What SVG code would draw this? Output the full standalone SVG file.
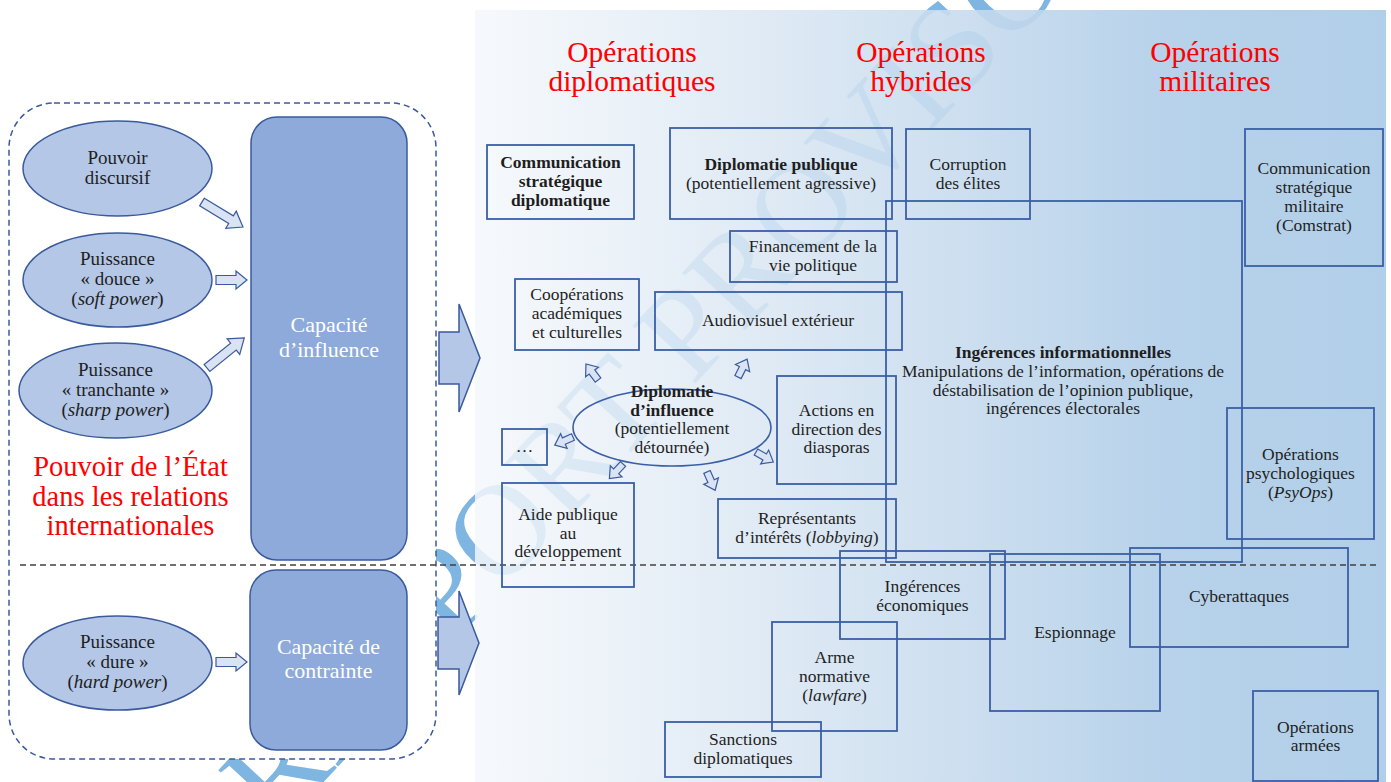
<svg xmlns="http://www.w3.org/2000/svg" xmlns:xlink="http://www.w3.org/1999/xlink" width="1391" height="782" viewBox="0 0 1391 782">
<defs>
 <linearGradient id="pg" gradientUnits="userSpaceOnUse" x1="475" y1="0" x2="1386" y2="0">
  <stop offset="0" stop-color="#f6f9fc"/>
  <stop offset="0.3" stop-color="#e1ebf5"/>
  <stop offset="0.6" stop-color="#c7dbee"/>
  <stop offset="0.757" stop-color="#b7d2ea"/>
  <stop offset="1" stop-color="#b2cfe9"/>
 </linearGradient>
 <clipPath id="pc"><rect x="475" y="10" width="911" height="772"/></clipPath>
 <path id="sa" d="M0,-3.5 H10 V-8 L20,0 L10,8 V3.5 H0 Z"/>
 <path id="ha" d="M0,-4.5 H20 V-9 L31,0 L20,9 V4.5 H0 Z"/>
 <path id="da" d="M0,-4.5 H34 V-10 L48,0 L34,10 V4.5 H0 Z"/>
</defs>
<style>
 .t{font-family:'Liberation Serif','Times New Roman',serif;fill:#1e1e1e;text-anchor:middle}
 .bx{font-size:17.5px}
 .el{font-size:19px}
 .b{font-weight:bold}
 .i{font-style:italic}
 .red{fill:#ff0000}
 .hd{font-size:29.5px}
 .cap{font-size:22px;fill:#ffffff}
 .box{fill:none;stroke:#3a5fa6;stroke-width:1.8}
 .ell{fill:#b4c7e7;stroke:#3a5a9c;stroke-width:1.5}
 .arr{fill:#dae3f3;stroke:#3a5a9c;stroke-width:1.2}
 .big{fill:#b4c7e7;stroke:#3a5a9c;stroke-width:1.5}
 .cr{fill:#8eaadb;stroke:#3a5a9c;stroke-width:1.5}
</style>

<g id="watermark">
 <text id="wm" transform="translate(278,831) rotate(-47)" font-family="Liberation Serif, serif" font-size="130" fill="#7fb5e1">RAPPORT PROVISOIRE</text>
</g>

<rect id="frame-left" x="9" y="103" width="427" height="656" rx="45" fill="#ffffff" stroke="#3a5a9c" stroke-width="1.5" stroke-dasharray="6 4"/>
<rect id="panel" x="475" y="10" width="911" height="772" fill="url(#pg)"/>
<use xlink:href="#wm" href="#wm" opacity="0.16" clip-path="url(#pc)"/>

<g id="headers">
 <text class="t hd red"><tspan x="632" y="62">Opérations</tspan><tspan x="632" y="91">diplomatiques</tspan></text>
 <text class="t hd red"><tspan x="921" y="62">Opérations</tspan><tspan x="921" y="91">hybrides</tspan></text>
 <text class="t hd red"><tspan x="1215" y="62">Opérations</tspan><tspan x="1215" y="91">militaires</tspan></text>
</g>

<text id="label-pouvoir-etat" class="t red" font-size="28.5"><tspan x="130.5" y="476">Pouvoir de l’État</tspan><tspan x="130.5" y="506">dans les relations</tspan><tspan x="130.5" y="535">internationales</tspan></text>

<line id="separator" x1="20" y1="565" x2="1380" y2="565" stroke="#404040" stroke-width="1.5" stroke-dasharray="6 4"/>

<g id="n-pouvoir-discursif">
 <ellipse class="ell" cx="117.5" cy="168.5" rx="94.5" ry="47.5"/>
 <text class="t el"><tspan x="117.5" y="164">Pouvoir</tspan><tspan x="117.5" y="184">discursif</tspan></text>
</g>
<g id="n-soft-power">
 <ellipse class="ell" cx="117.5" cy="280" rx="94.5" ry="47"/>
 <text class="t el"><tspan x="117.5" y="265">Puissance</tspan><tspan x="117.5" y="285">« douce »</tspan><tspan x="117.5" y="305">(<tspan class="i">soft power</tspan>)</tspan></text>
</g>
<g id="n-sharp-power">
 <ellipse class="ell" cx="115.5" cy="390.5" rx="96.5" ry="47.5"/>
 <text class="t el"><tspan x="115.5" y="376">Puissance</tspan><tspan x="115.5" y="396">« tranchante »</tspan><tspan x="115.5" y="416">(<tspan class="i">sharp power</tspan>)</tspan></text>
</g>
<g id="n-hard-power">
 <ellipse class="ell" cx="117.5" cy="663" rx="94.5" ry="47"/>
 <text class="t el"><tspan x="117.5" y="648">Puissance</tspan><tspan x="117.5" y="668">« dure »</tspan><tspan x="117.5" y="688">(<tspan class="i">hard power</tspan>)</tspan></text>
</g>
<g id="n-capacite-influence">
 <rect class="cr" x="251" y="117" width="156" height="443" rx="26"/>
 <text class="t cap"><tspan x="329" y="332">Capacité</tspan><tspan x="329" y="357">d’influence</tspan></text>
</g>
<g id="n-capacite-contrainte">
 <rect class="cr" x="250" y="570" width="157" height="180" rx="26"/>
 <text class="t cap"><tspan x="328.5" y="654">Capacité de</tspan><tspan x="328.5" y="678">contrainte</tspan></text>
</g>

<g id="n-comm-strat-diplo">
 <rect class="box" x="487" y="145" width="147" height="74"/>
 <text class="t bx b"><tspan x="560.5" y="168">Communication</tspan><tspan x="560.5" y="187">stratégique</tspan><tspan x="560.5" y="206">diplomatique</tspan></text>
</g>
<g id="n-diplomatie-publique">
 <rect class="box" x="670" y="128" width="222" height="91"/>
 <text class="t bx"><tspan x="781" y="170" class="b">Diplomatie publique</tspan><tspan x="781" y="189">(potentiellement agressive)</tspan></text>
</g>
<g id="n-corruption">
 <rect class="box" x="906" y="129" width="124" height="90"/>
 <text class="t bx"><tspan x="968" y="170">Corruption</tspan><tspan x="968" y="189">des élites</tspan></text>
</g>
<g id="n-comm-strat-mil">
 <rect class="box" x="1245" y="129" width="138" height="137"/>
 <text class="t bx"><tspan x="1314" y="174">Communication</tspan><tspan x="1314" y="193">stratégique</tspan><tspan x="1314" y="212">militaire</tspan><tspan x="1314" y="231">(Comstrat)</tspan></text>
</g>
<g id="n-financement">
 <rect class="box" x="730" y="231" width="167" height="51"/>
 <text class="t bx"><tspan x="813" y="252">Financement de la</tspan><tspan x="813" y="271">vie politique</tspan></text>
</g>
<g id="n-cooperations">
 <rect class="box" x="515" y="279" width="124" height="71"/>
 <text class="t bx"><tspan x="577" y="300">Coopérations</tspan><tspan x="577" y="319">académiques</tspan><tspan x="577" y="338">et culturelles</tspan></text>
</g>
<g id="n-audiovisuel">
 <rect class="box" x="655" y="292" width="247" height="58"/>
 <text class="t bx"><tspan x="778" y="326">Audiovisuel extérieur</tspan></text>
</g>
<g id="n-ingerences-info">
 <rect class="box" x="886" y="201" width="356" height="361"/>
 <text class="t bx"><tspan x="1063" y="358" class="b">Ingérences informationnelles</tspan><tspan x="1063" y="377">Manipulations de l’information, opérations de</tspan><tspan x="1063" y="396">déstabilisation de l’opinion publique,</tspan><tspan x="1063" y="414">ingérences électorales</tspan></text>
</g>
<g id="n-diplomatie-influence">
 <ellipse cx="672" cy="427.5" rx="99" ry="38.5" fill="none" stroke="#3a5fa6" stroke-width="1.6"/>
 <text class="t bx"><tspan x="672" y="397" class="b">Diplomatie</tspan><tspan x="672" y="416" class="b">d’influence</tspan><tspan x="672" y="434">(potentiellement</tspan><tspan x="672" y="453">détournée)</tspan></text>
</g>
<g id="n-etc">
 <rect class="box" x="502" y="429" width="45" height="36"/>
 <text class="t bx"><tspan x="524.5" y="452">…</tspan></text>
</g>
<g id="n-aide-publique">
 <rect class="box" x="502" y="483" width="132" height="104"/>
 <text class="t bx"><tspan x="568" y="520">Aide publique</tspan><tspan x="568" y="539">au</tspan><tspan x="568" y="557">développement</tspan></text>
</g>
<g id="n-diasporas">
 <rect class="box" x="777" y="376" width="119" height="108"/>
 <text class="t bx"><tspan x="836.5" y="416">Actions en</tspan><tspan x="836.5" y="435">direction des</tspan><tspan x="836.5" y="453">diasporas</tspan></text>
</g>
<g id="n-lobbying">
 <rect class="box" x="718" y="499" width="178" height="59"/>
 <text class="t bx"><tspan x="807" y="524">Représentants</tspan><tspan x="807" y="543">d’intérêts (<tspan class="i">lobbying</tspan>)</tspan></text>
</g>
<g id="n-psyops">
 <rect class="box" x="1227" y="408" width="147" height="131"/>
 <text class="t bx"><tspan x="1300.5" y="460">Opérations</tspan><tspan x="1300.5" y="479">psychologiques</tspan><tspan x="1300.5" y="498">(<tspan class="i">PsyOps</tspan>)</tspan></text>
</g>
<g id="n-ingerences-eco">
 <rect class="box" x="840" y="551" width="165" height="88"/>
 <text class="t bx"><tspan x="922.5" y="592">Ingérences</tspan><tspan x="922.5" y="611">économiques</tspan></text>
</g>
<g id="n-espionnage">
 <rect class="box" x="990" y="554" width="170" height="157"/>
 <text class="t bx"><tspan x="1075" y="638">Espionnage</tspan></text>
</g>
<g id="n-cyberattaques">
 <rect class="box" x="1130" y="548" width="218" height="99"/>
 <text class="t bx"><tspan x="1239" y="602">Cyberattaques</tspan></text>
</g>
<g id="n-lawfare">
 <rect class="box" x="772" y="622" width="125" height="109"/>
 <text class="t bx"><tspan x="834.5" y="663">Arme</tspan><tspan x="834.5" y="682">normative</tspan><tspan x="834.5" y="701">(<tspan class="i">lawfare</tspan>)</tspan></text>
</g>
<g id="n-sanctions">
 <rect class="box" x="665" y="722" width="156" height="55"/>
 <text class="t bx"><tspan x="743" y="745">Sanctions</tspan><tspan x="743" y="764">diplomatiques</tspan></text>
</g>
<g id="n-operations-armees">
 <rect class="box" x="1253" y="691" width="125" height="90"/>
 <text class="t bx"><tspan x="1315.5" y="733">Opérations</tspan><tspan x="1315.5" y="751">armées</tspan></text>
</g>

<g id="connectors">
 <use xlink:href="#da" href="#da" class="arr" transform="translate(202,202) rotate(31.4)"/>
 <use xlink:href="#ha" href="#ha" class="arr" transform="translate(216,280)"/>
 <use xlink:href="#da" href="#da" class="arr" transform="translate(207,368) rotate(-39)"/>
 <use xlink:href="#ha" href="#ha" class="arr" transform="translate(216,662)"/>
 <polygon class="big" points="439,332 459,332 459,304 480,358 459,412 459,384 439,384"/>
 <polygon class="big" points="438,617 459,617 459,591 479,643 459,695 459,669 438,669"/>
 <use xlink:href="#sa" href="#sa" class="arr" transform="translate(598,380) rotate(-127)"/>
 <use xlink:href="#sa" href="#sa" class="arr" transform="translate(738,377) rotate(-63)"/>
 <use xlink:href="#sa" href="#sa" class="arr" transform="translate(573,437) rotate(156)"/>
 <use xlink:href="#sa" href="#sa" class="arr" transform="translate(623,464) rotate(133)"/>
 <use xlink:href="#sa" href="#sa" class="arr" transform="translate(707,472) rotate(66)"/>
 <use xlink:href="#sa" href="#sa" class="arr" transform="translate(756,452) rotate(30)"/>
</g>
</svg>
